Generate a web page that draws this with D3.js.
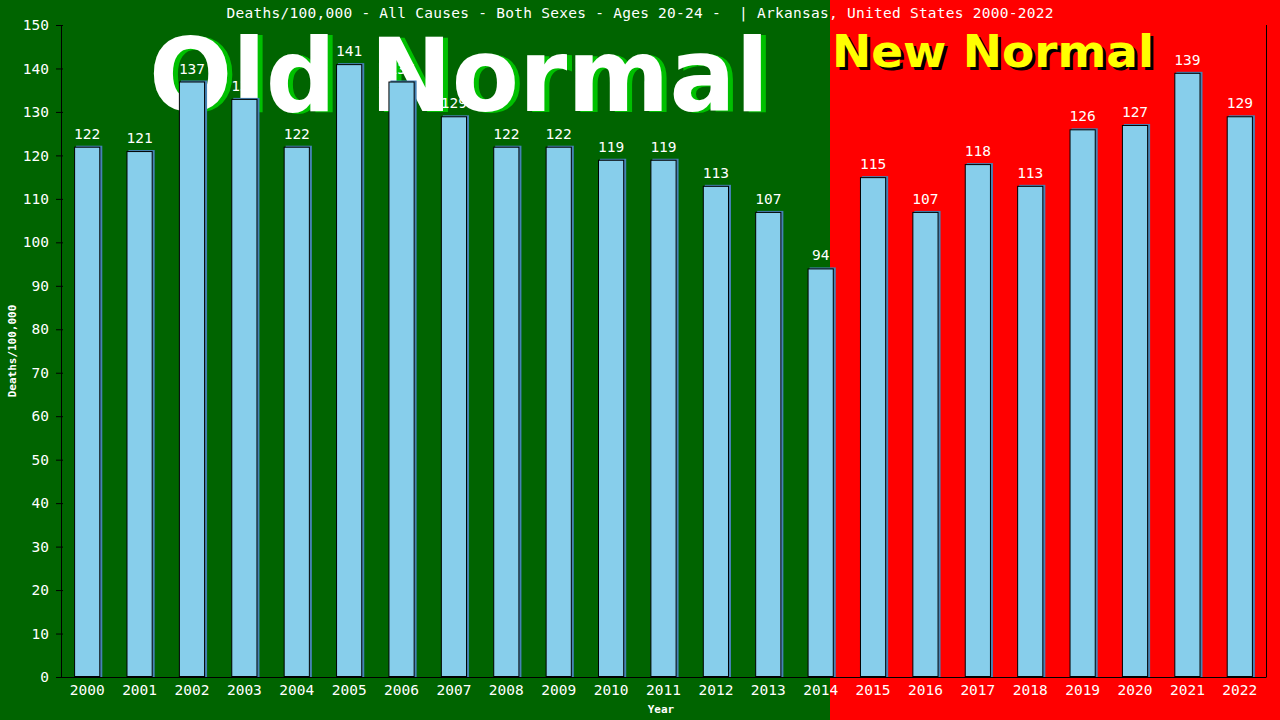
<!DOCTYPE html>
<html>
<head>
<meta charset="utf-8">
<script src="https://cdn.jsdelivr.net/npm/d3@7/dist/d3.min.js"></script>
<style>
  html, body { margin: 0; padding: 0; background: #006400; }
  svg { display: block; }
  .mono { font-family: "DejaVu Sans Mono", "Liberation Mono", monospace; }
</style>
</head>
<body>
<div id="chart"></div>
<script>
var years = ['2000', '2001', '2002', '2003', '2004', '2005', '2006', '2007', '2008', '2009', '2010', '2011',
  '2012', '2013', '2014', '2015', '2016', '2017', '2018', '2019', '2020', '2021', '2022'];
var deaths = [122, 121, 137, 133, 122, 141, 137, 129, 122, 122, 119, 119, 113, 107, 94,
  115, 107, 118, 113, 126, 127, 139, 129];
var yTicks = [0, 10, 20, 30, 40, 50, 60, 70, 80, 90, 100, 110, 120, 130, 140, 150];

var W = 1280, H = 720;
var margin = { top: 25, right: 14, bottom: 43, left: 61 };
var width = W - margin.left - margin.right,
    height = H - margin.top - margin.bottom;

var svg = d3.select("#chart").append("svg")
    .attr("width", W)
    .attr("height", H);

// backgrounds: old normal (green) / new normal (red)
var splitX = 830;
svg.append("rect").attr("x", 0).attr("y", 0).attr("width", splitX).attr("height", H).attr("fill", "#006400");
svg.append("rect").attr("x", splitX).attr("y", 0).attr("width", W - splitX).attr("height", H).attr("fill", "#ff0000");

// big labels
svg.append("text")
    .attr("x", 154).attr("y", 112)
    .attr("font-family", "DejaVu Sans, sans-serif").attr("font-weight", "bold")
    .attr("font-size", 102).attr("fill", "#00c000")
    .attr("textLength", 620).attr("lengthAdjust", "spacingAndGlyphs")
    .text("Old Normal");
svg.append("text")
    .attr("x", 149).attr("y", 111)
    .attr("font-family", "DejaVu Sans, sans-serif").attr("font-weight", "bold")
    .attr("font-size", 102).attr("fill", "#ffffff")
    .attr("textLength", 620).attr("lengthAdjust", "spacingAndGlyphs")
    .text("Old Normal");

svg.append("text")
    .attr("x", 835).attr("y", 70)
    .attr("font-family", "DejaVu Sans, sans-serif").attr("font-weight", "bold")
    .attr("font-size", 45).attr("fill", "#000000")
    .attr("textLength", 322).attr("lengthAdjust", "spacingAndGlyphs")
    .text("New Normal");
svg.append("text")
    .attr("x", 832).attr("y", 67)
    .attr("font-family", "DejaVu Sans, sans-serif").attr("font-weight", "bold")
    .attr("font-size", 45).attr("fill", "#ffff00")
    .attr("textLength", 322).attr("lengthAdjust", "spacingAndGlyphs")
    .text("New Normal");

var g = svg.append("g")
    .attr("transform", "translate(" + margin.left + "," + margin.top + ")");

var x = d3.scaleBand().domain(years).range([0, width]).paddingInner(0.5).paddingOuter(0.25);
var y = d3.scaleLinear().domain([0, 150]).range([height, 0]);

// bar shadows
g.selectAll(".shadow")
    .data(deaths)
  .enter().append("rect")
    .attr("class", "shadow")
    .attr("x", function(d, i) { return x(years[i]) + 2; })
    .attr("y", function(d) { return y(d) - 1; })
    .attr("width", x.bandwidth())
    .attr("height", function(d) { return height - y(d) + 1; })
    .attr("fill", "#4682b4");

g.selectAll(".bar")
    .data(deaths)
  .enter().append("rect")
    .attr("class", "bar")
    .attr("x", function(d, i) { return x(years[i]) + 0.5; })
    .attr("y", function(d) { return y(d) + 0.5; })
    .attr("width", x.bandwidth() - 1)
    .attr("height", function(d) { return height - y(d) - 1; })
    .attr("fill", "#87ceeb")
    .attr("stroke", "#000")
    .attr("stroke-width", 1);

g.selectAll(".val")
    .data(deaths)
  .enter().append("text")
    .attr("class", "val mono")
    .attr("x", function(d, i) { return x(years[i]) + x.bandwidth() / 2; })
    .attr("y", function(d) { return y(d) - 8; })
    .attr("text-anchor", "middle")
    .attr("font-size", 14.5)
    .attr("fill", "#fff")
    .text(function(d) { return d; });

// axes
var yAxis = g.append("g")
    .call(d3.axisLeft(y).tickValues(yTicks).tickSize(7).tickSizeOuter(0));
yAxis.select(".domain").attr("stroke", "#000");
yAxis.selectAll(".tick line").attr("stroke", "#000").attr("x2", 2).attr("x1", -5);
yAxis.selectAll(".tick text")
    .attr("class", "mono")
    .attr("x", -12)
    .attr("font-size", 14.5)
    .attr("font-family", "DejaVu Sans Mono, monospace")
    .attr("fill", "#fff");

var xAxis = g.append("g")
    .attr("transform", "translate(0," + height + ")")
    .call(d3.axisBottom(x).tickSize(0).tickSizeOuter(0));
xAxis.select(".domain").attr("stroke", "#000");
xAxis.selectAll(".tick text")
    .attr("y", 8)
    .attr("font-size", 14.5)
    .attr("font-family", "DejaVu Sans Mono, monospace")
    .attr("fill", "#fff");

// right border
g.append("line")
    .attr("x1", width + 0.5).attr("x2", width + 0.5)
    .attr("y1", 0).attr("y2", height)
    .attr("stroke", "#000");

// axis titles
svg.append("text")
    .attr("class", "mono")
    .attr("transform", "translate(16," + (margin.top + height / 2) + ") rotate(-90)")
    .attr("text-anchor", "middle")
    .attr("font-size", 11)
    .attr("font-weight", "bold")
    .attr("fill", "#fff")
    .text("Deaths/100,000");

svg.append("text")
    .attr("class", "mono")
    .attr("x", 661).attr("y", 713)
    .attr("text-anchor", "middle")
    .attr("font-size", 11)
    .attr("font-weight", "bold")
    .attr("fill", "#fff")
    .text("Year");

// title
svg.append("text")
    .attr("class", "mono")
    .attr("x", 640).attr("y", 18)
    .attr("text-anchor", "middle")
    .attr("font-size", 14.5)
    .attr("fill", "#fff")
    .attr("textLength", 827)
    .attr("xml:space", "preserve")
    .style("white-space", "pre")
    .text("Deaths/100,000 - All Causes - Both Sexes - Ages 20-24 -  | Arkansas, United States 2000-2022");
</script>
</body>
</html>
